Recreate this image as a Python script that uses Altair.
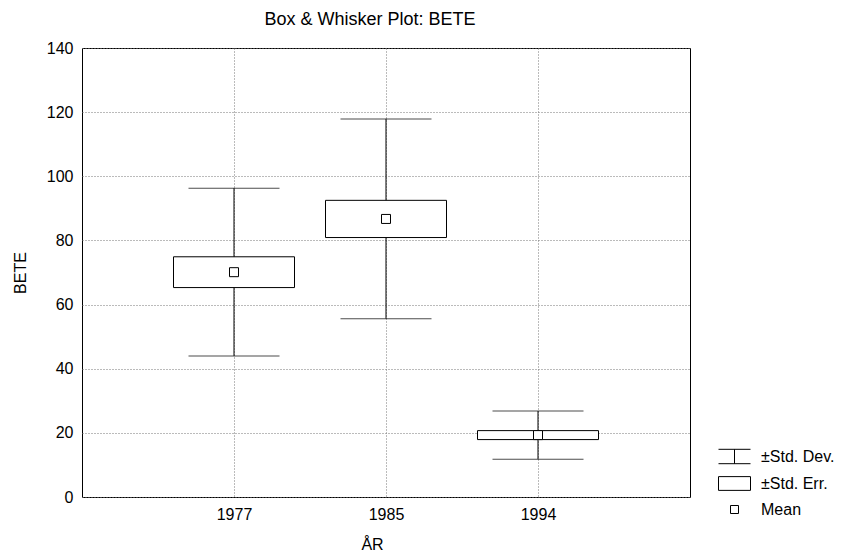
import altair as alt
import pandas as pd

years = ["1977", "1985", "1994"]
means = [70.1, 86.7, 19.3]
se_low = [65.3, 80.9, 17.9]
se_high = [74.9, 92.5, 20.7]
sd_low = [44.0, 55.6, 11.8]
sd_high = [96.3, 117.9, 26.8]

legend_labels = ["±Std. Dev.", "±Std. Err.", "Mean"]
legend_paths = [
    "M-2,-0.9H2M0,-0.9V0.9M-2,0.9H2",
    "M-2,-0.86H2V0.86H-2Z",
    "M-0.5,-0.5H0.5V0.5H-0.5Z",
]

df = pd.DataFrame({
    "year": years,
    "mean": means,
    "se_low": se_low,
    "se_high": se_high,
    "sd_low": sd_low,
    "sd_high": sd_high,
    "stat": ["Mean"] * len(years),
})

FONT = "Liberation Sans"

x = alt.X(
    "year:N", sort=years,
    scale=alt.Scale(type="point", padding=1),
    axis=alt.Axis(title="ÅR", labelAngle=0, ticks=False, domain=False,
                  labelPadding=9, titlePadding=14, titleX=290, grid=True),
)
yscale = alt.Scale(domain=[0, 140], nice=False, zero=True)
yaxis = alt.Axis(title="BETE", values=list(range(0, 141, 20)), ticks=False,
                 domain=False, labelPadding=9, titlePadding=18, grid=True)

base = alt.Chart(df)

whisker = base.mark_rule(color="black", strokeWidth=1).encode(
    x=x,
    y=alt.Y("sd_low:Q", scale=yscale, axis=yaxis),
    y2="sd_high:Q",
)
box = base.mark_bar(size=121, fill="white", stroke="black", strokeWidth=1).encode(
    x=x,
    y=alt.Y("se_low:Q", scale=yscale),
    y2="se_high:Q",
)
cap_hi = base.mark_tick(size=91, thickness=1, color="black").encode(
    x=x, y=alt.Y("sd_high:Q", scale=yscale)
)
cap_lo = base.mark_tick(size=91, thickness=1, color="black").encode(
    x=x, y=alt.Y("sd_low:Q", scale=yscale)
)
mean_fill = base.mark_square(size=81, color="white", opacity=1).encode(
    x=x, y=alt.Y("mean:Q", scale=yscale)
)
mean_pt = base.mark_point(size=324, filled=False, color="black",
                          strokeWidth=1, opacity=1).encode(
    x=x,
    y=alt.Y("mean:Q", scale=yscale),
    shape=alt.Shape(
        "stat:N",
        scale=alt.Scale(domain=legend_labels, range=legend_paths),
        legend=alt.Legend(
            title=None, orient="none", legendX=644, legendY=400,
            symbolSize=256, labelFontSize=16,
            labelFont=FONT, labelOffset=18, rowPadding=8, padding=0,
            labelColor="black", symbolStrokeColor="black",
            symbolStrokeWidth=1, symbolOpacity=1, labelLimit=200,
        ),
    ),
)

chart = alt.layer(whisker, box, cap_hi, cap_lo, mean_fill, mean_pt).properties(
    width=608, height=449,
    background="white",
    title=alt.TitleParams("Box & Whisker Plot: BETE", fontSize=18, font=FONT,
                          fontWeight="normal", anchor="middle", offset=11,
                          dx=-16, color="black"),
    autosize=alt.AutoSizeParams(type="none"),
    padding={"left": 74, "top": 40, "right": 149, "bottom": 56},
).configure_view(
    stroke="black", strokeWidth=1
).configure_axis(
    labelFont=FONT, titleFont=FONT, labelFontSize=16, titleFontSize=16,
    titleFontWeight="normal", labelColor="black", titleColor="black",
    gridColor="#777777", gridDash=[1, 2], gridWidth=1, gridOpacity=1,
)

chart.save("out.html", embed_options={"renderer": "svg", "actions": False})
